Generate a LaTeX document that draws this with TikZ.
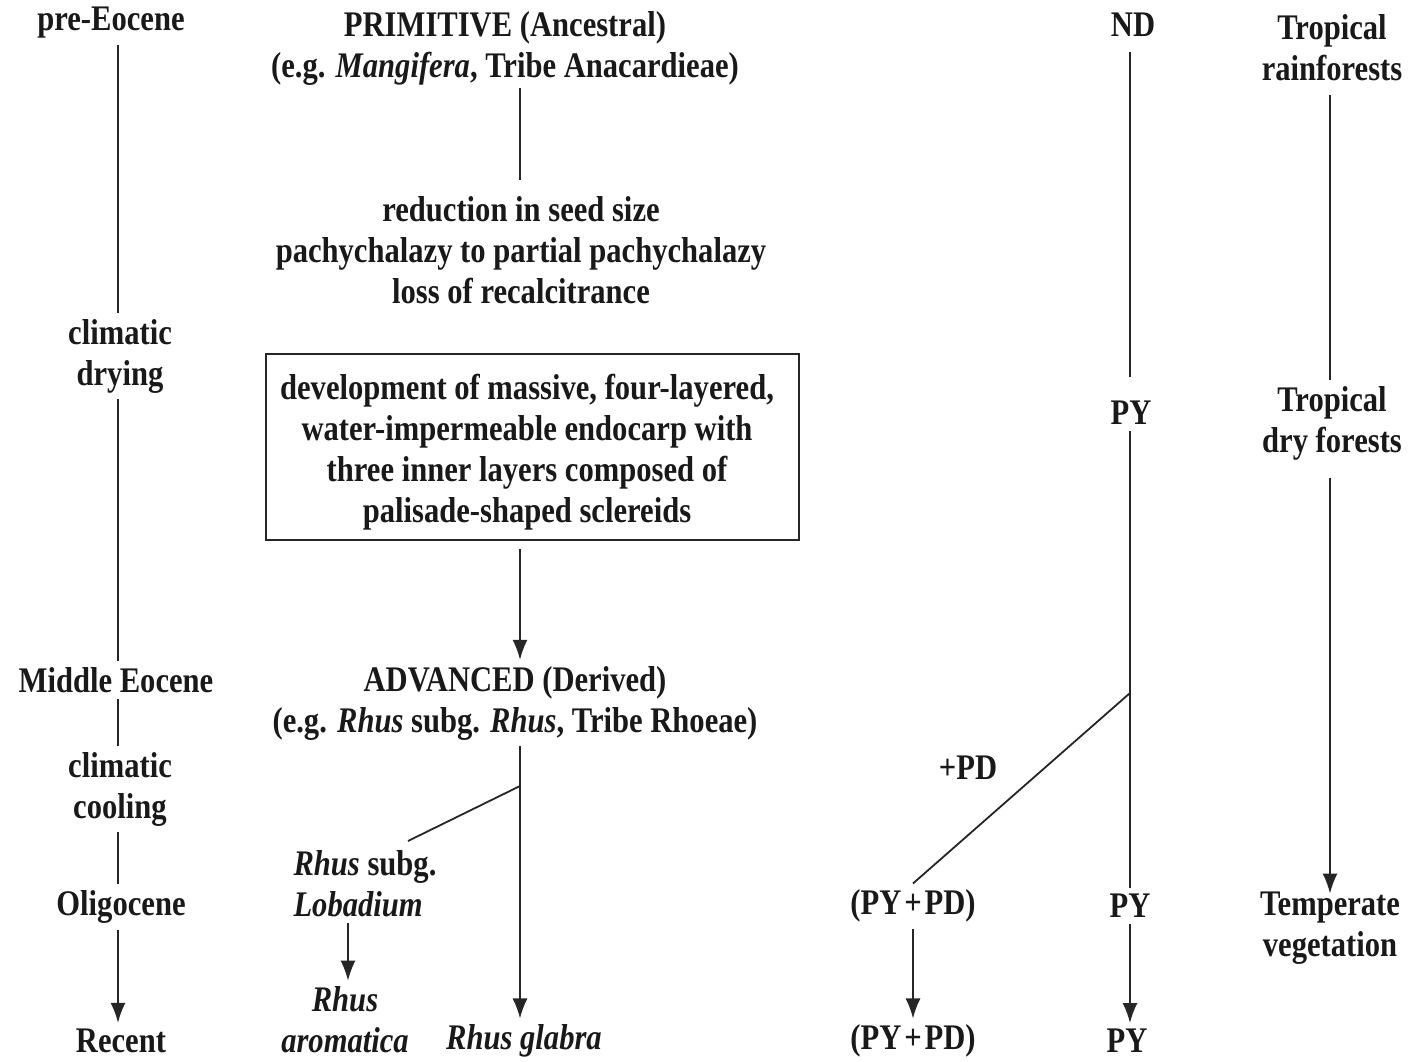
\documentclass[tikz,border=0pt]{standalone}
\usepackage{fontspec}
\setmainfont{Liberation Serif}[FakeStretch=0.85]
\usetikzlibrary{arrows.meta,calc}
\begin{document}
\begin{tikzpicture}[x=1pt,y=-1pt,
  every node/.style={font=\fontsize{36}{41}\selectfont\bfseries, inner sep=6pt, align=center, text=black!90, yshift=-3pt},
  ln/.style={line width=1.8pt, draw=black!85},
  arr/.style={ln, -{Latex[length=20pt,width=15pt]}},
  boxed/.style={draw=black!85, line width=1.8pt, minimum width=533pt, minimum height=186pt}
]
\useasboundingbox[fill=white] (0,0) rectangle (1409,1061);

% left timeline
\coordinate (tl) at (118,0);
\node (pre) at (111,20) {pre-Eocene};
\node (dry) at (120,353) {climatic\\drying};
\node (mid) at (116,677) {Middle Eocene};
\node (cool) at (120,786) {climatic\\cooling};
\node (oli) at (121,904) {Oligocene};
\node (rec) at (121,1038) {Recent};
\draw[ln] (pre.south -| tl) -- (dry.north -| tl);
\draw[ln] (dry.south -| tl) -- (mid.north -| tl);
\draw[ln] (mid.south -| tl) -- (cool.north -| tl);
\draw[ln] (cool.south -| tl) -- (oli.north -| tl);
\draw[arr] (oli.south -| tl) -- (rec.north -| tl);

% middle column
\coordinate (tm) at (520,0);
\node (prim) at (505,45) {PRIMITIVE (Ancestral)\\(e.g. \textit{Mangifera}, Tribe Anacardieae)};
\node (red) at (521,247) {reduction in seed size\\pachychalazy to partial pachychalazy\\loss of recalcitrance};
\node[boxed] (box) at (532.5,444) {};
\node (boxtxt) at (527,449) {development of massive, four-layered,\\water-impermeable endocarp with\\three inner layers composed of\\palisade-shaped sclereids};
\node (adv) at (515,700) {ADVANCED (Derived)\\(e.g. \textit{Rhus} subg. \textit{Rhus}, Tribe Rhoeae)};
\node[align=left] (lob) at (365,881) {\textit{Rhus} subg.\\\textit{Lobadium}};
\node (aro) at (345,1017) {\textit{Rhus}\\\textit{aromatica}};
\node (gla) at (524,1038) {\textit{Rhus glabra}};
\coordinate (la) at (348,0);
\coordinate (br1) at (520,783);
\coordinate (br2) at (408,838);
\draw[ln, shorten <=-3pt, shorten >=10pt] (prim.south -| tm) -- (red.north -| tm);
\draw[arr, shorten <=8pt] (box.south -| tm) -- (adv.north -| tm);
\draw[arr] (adv.south -| tm) -- (gla.north -| tm);
\draw[ln] (br1) -- (br2);
\draw[arr] (lob.south -| la) -- (aro.north -| la);

% dormancy column
\coordinate (tr) at (1130,0);
\coordinate (fork) at (1130,690);
\node (nd) at (1133,22) {ND};
\node (py1) at (1131,410) {PY};
\node (pd) at (968,765) {+PD};
\node (pp1) at (913,903) {(PY\hspace{0.08em}+\hspace{0.08em}PD)};
\node (py2) at (1130,903) {PY};
\node (pp2) at (913,1038) {(PY\hspace{0.08em}+\hspace{0.08em}PD)};
\node (py3) at (1127,1038) {PY};
\draw[ln, shorten <=9pt, shorten >=18pt] (nd.south -| tr) -- (py1.north -| tr);
\draw[ln] (py1.south -| tr) -- (py2.north -| tr);
\draw[ln] (fork) -- (pp1.north);
\draw[arr] (pp1.south) -- (pp2.north);
\draw[arr] (py2.south -| tr) -- (py3.north -| tr);

% vegetation column
\coordinate (tv) at (1330,0);
\node (rain) at (1332,45) {Tropical\\rainforests};
\node (dryf) at (1332,420) {Tropical\\dry forests};
\node (temp) at (1330,925) {Temperate\\vegetation};
\draw[ln, shorten <=8pt] (rain.south -| tv) -- (dryf.north -| tv);
\draw[arr, shorten <=12pt, shorten >=-8pt] (dryf.south -| tv) -- (temp.north -| tv);
\end{tikzpicture}
\end{document}
